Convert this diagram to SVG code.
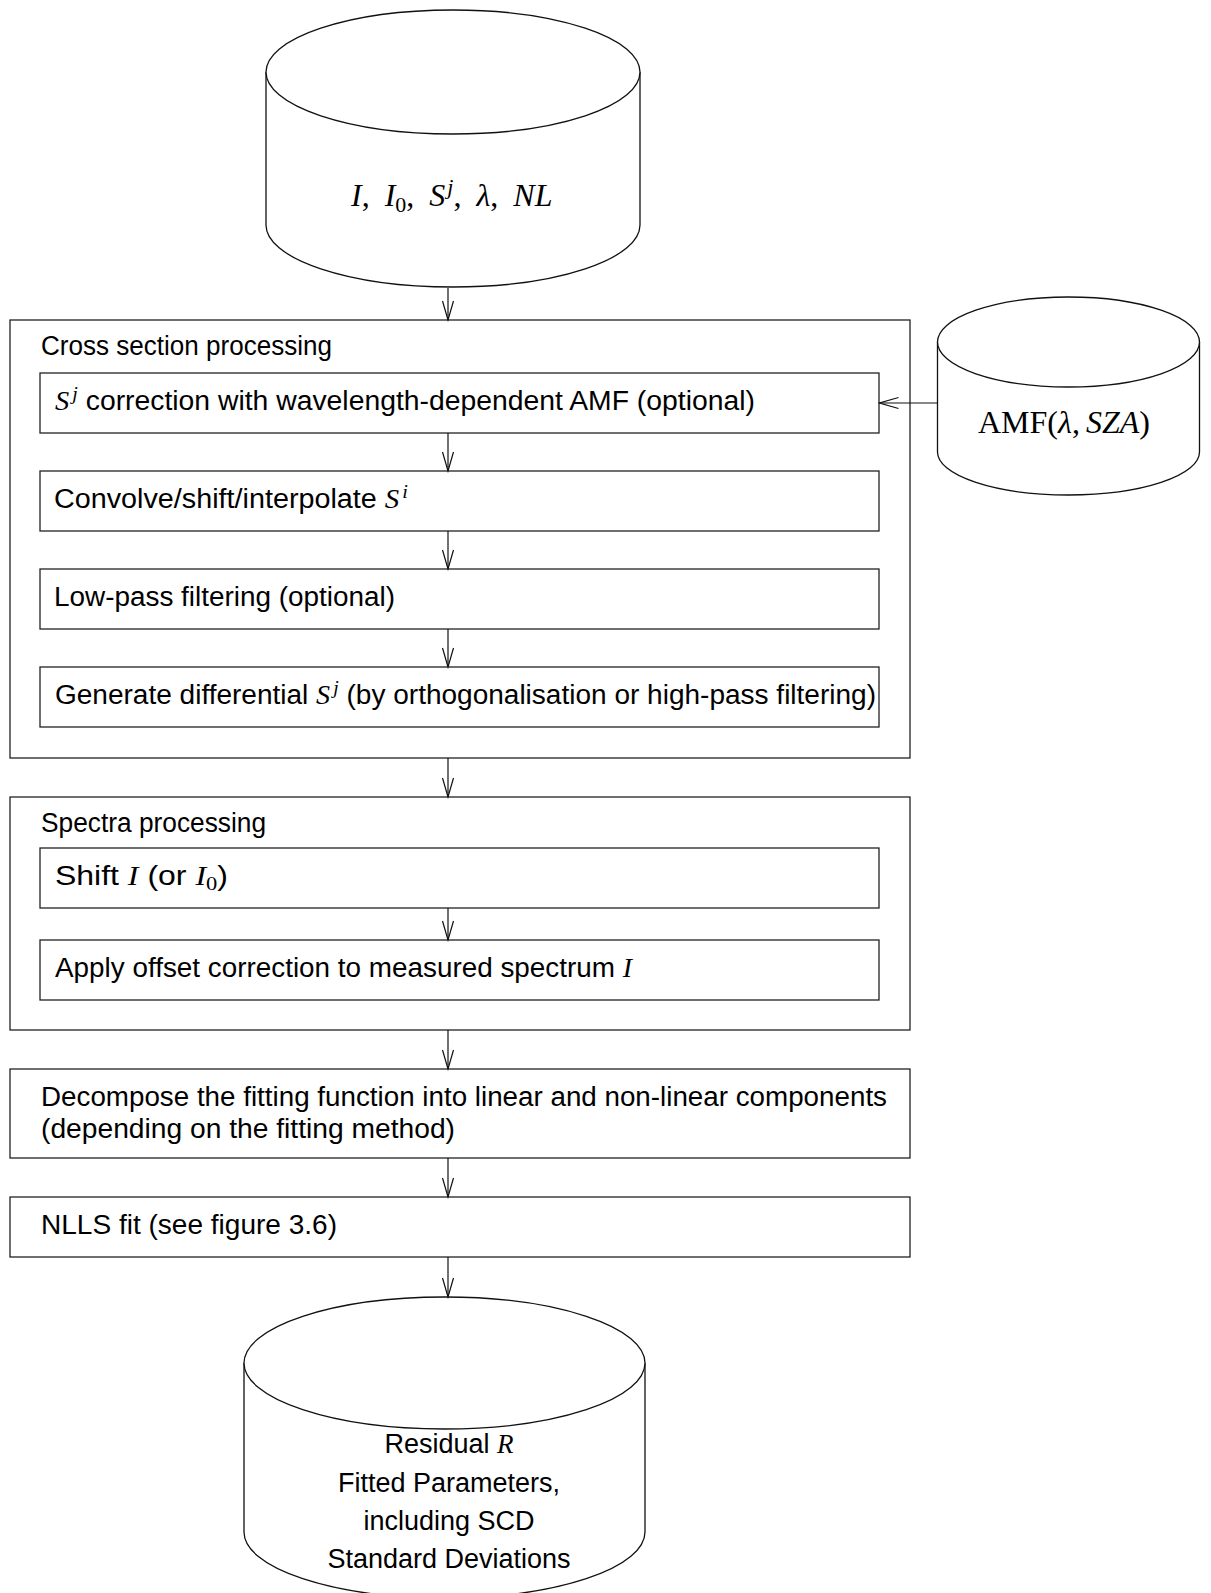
<svg xmlns="http://www.w3.org/2000/svg" width="1211" height="1593" viewBox="0 0 1211 1593">
<style>
.box{fill:none;stroke:#222;stroke-width:1.3}
.cyl{fill:#fff;stroke:#111;stroke-width:1.3}
.t{font-family:"Liberation Sans",Arial,sans-serif;font-size:27px;fill:#000}
.mt{font-family:"Liberation Serif","Times New Roman",serif;font-size:32px;fill:#000}
.m{font-family:"Liberation Serif","Times New Roman",serif;font-style:italic}
.r{font-family:"Liberation Serif","Times New Roman",serif;font-style:normal}
.s{font-size:19px}
.s2{font-size:22px}
.conn path{fill:none;stroke:#111;stroke-width:1.2}
</style>
<defs>
<marker id="arr" markerWidth="22" markerHeight="14" refX="20" refY="7" orient="auto" markerUnits="userSpaceOnUse">
<path d="M1,1.5 L20,7 L1,12.5" fill="none" stroke="#111" stroke-width="1.2"/>
</marker>
</defs>
<rect width="1211" height="1593" fill="#fff"/>

<g id="input-db">
<path class="cyl" d="M266,72 V225 A187,62 0 0 0 640,225 V72"/>
<ellipse class="cyl" cx="453" cy="72" rx="187" ry="62"/>
<text class="mt" x="351" y="206"><tspan class="m">I</tspan>,<tspan class="m" dx="15">I</tspan><tspan class="s2" dy="6">0</tspan><tspan dy="-6">,</tspan><tspan class="m" dx="15">S</tspan><tspan class="m s2" dx="2" dy="-12">j</tspan><tspan dy="12">,</tspan><tspan class="m" dx="15">λ</tspan>,<tspan class="m" dx="15">NL</tspan></text>
</g>

<g id="cross-section">
<rect class="box" x="10" y="320" width="900" height="438"/>
<text class="t" x="41" y="355" textLength="291" lengthAdjust="spacingAndGlyphs">Cross section processing</text>
</g>

<g id="sj-correction">
<rect class="box" x="40" y="373" width="839" height="60"/>
<text class="t" x="55" y="410" textLength="700" lengthAdjust="spacingAndGlyphs"><tspan class="m">S</tspan><tspan class="m s" dx="3" dy="-10">j</tspan><tspan dy="10"> correction with wavelength-dependent AMF (optional)</tspan></text>
</g>

<g id="convolve">
<rect class="box" x="40" y="471" width="839" height="60"/>
<text class="t" x="54" y="508" textLength="354" lengthAdjust="spacingAndGlyphs">Convolve/shift/interpolate <tspan class="m">S</tspan><tspan class="m s" dx="3" dy="-10">i</tspan></text>
</g>

<g id="lowpass">
<rect class="box" x="40" y="569" width="839" height="60"/>
<text class="t" x="54" y="606" textLength="341" lengthAdjust="spacingAndGlyphs">Low-pass filtering (optional)</text>
</g>

<g id="differential">
<rect class="box" x="40" y="667" width="839" height="60"/>
<text class="t" x="55" y="704" textLength="821" lengthAdjust="spacingAndGlyphs">Generate differential <tspan class="m">S</tspan><tspan class="m s" dx="3" dy="-10">j</tspan><tspan dy="10"> (by orthogonalisation or high-pass filtering)</tspan></text>
</g>

<g id="amf-db">
<path class="cyl" d="M937.5,342 V452 A131,43 0 0 0 1199.5,452 V342"/>
<ellipse class="cyl" cx="1068.5" cy="342" rx="131" ry="45"/>
<text class="mt" x="978" y="433">AMF(<tspan class="m">λ</tspan>,<tspan class="m" dx="6">SZA</tspan>)</text>
</g>

<g id="spectra">
<rect class="box" x="10" y="797" width="900" height="233"/>
<text class="t" x="41" y="832" textLength="225" lengthAdjust="spacingAndGlyphs">Spectra processing</text>
</g>

<g id="shift">
<rect class="box" x="40" y="848" width="839" height="60"/>
<text class="t" x="55" y="885" textLength="173" lengthAdjust="spacingAndGlyphs">Shift <tspan class="m">I</tspan> (or <tspan class="m">I</tspan><tspan class="r s" dy="5">0</tspan><tspan dy="-5">)</tspan></text>
</g>

<g id="offset">
<rect class="box" x="40" y="940" width="839" height="60"/>
<text class="t" x="55" y="977" textLength="577" lengthAdjust="spacingAndGlyphs">Apply offset correction to measured spectrum <tspan class="m">I</tspan></text>
</g>

<g id="decompose">
<rect class="box" x="10" y="1069" width="900" height="89"/>
<text class="t" x="41" y="1106" textLength="846" lengthAdjust="spacingAndGlyphs">Decompose the fitting function into linear and non-linear components</text>
<text class="t" x="41" y="1138" textLength="414" lengthAdjust="spacingAndGlyphs">(depending on the fitting method)</text>
</g>

<g id="nlls">
<rect class="box" x="10" y="1197" width="900" height="60"/>
<text class="t" x="41" y="1234" textLength="296" lengthAdjust="spacingAndGlyphs">NLLS fit (see figure 3.6)</text>
</g>

<g id="output-db">
<path class="cyl" d="M244,1363 V1532 A200.5,66 0 0 0 645,1532 V1363"/>
<ellipse class="cyl" cx="444.5" cy="1363" rx="200.5" ry="66"/>
<g class="t" text-anchor="middle">
<text x="449" y="1453">Residual <tspan class="m">R</tspan></text>
<text x="449" y="1492">Fitted Parameters,</text>
<text x="449" y="1530">including SCD</text>
<text x="449" y="1568">Standard Deviations</text>
</g>
</g>

<g class="conn" id="connectors">
<path d="M448,288 V320" marker-end="url(#arr)"/>
<path d="M448,433 V471" marker-end="url(#arr)"/>
<path d="M448,531 V569" marker-end="url(#arr)"/>
<path d="M448,629 V667" marker-end="url(#arr)"/>
<path d="M448,758 V797" marker-end="url(#arr)"/>
<path d="M448,908 V940" marker-end="url(#arr)"/>
<path d="M448,1030 V1069" marker-end="url(#arr)"/>
<path d="M448,1158 V1197" marker-end="url(#arr)"/>
<path d="M448,1257 V1297" marker-end="url(#arr)"/>
<path d="M937.5,403 H879.5" marker-end="url(#arr)"/>
</g>
</svg>
